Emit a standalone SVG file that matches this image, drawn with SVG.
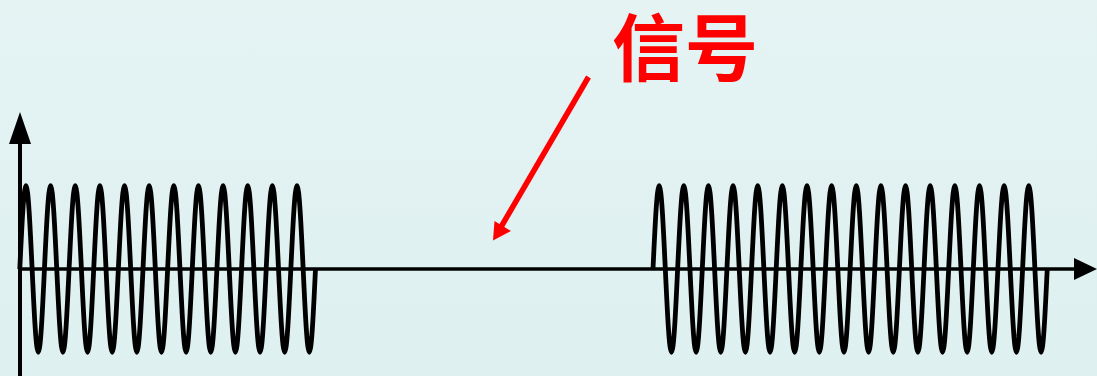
<svg xmlns="http://www.w3.org/2000/svg" width="1097" height="376" viewBox="0 0 1097 376">
<defs>
<linearGradient id="bg" x1="0" y1="0" x2="0" y2="1">
<stop offset="0" stop-color="#E5F3F3"/>
<stop offset="1" stop-color="#DEF0F0"/>
</linearGradient>
<style>
.ax{stroke:#000;stroke-width:3.5;fill:none}
.wave{stroke:#000;stroke-width:4.8;fill:none;stroke-linejoin:round;stroke-linecap:butt}
.head{fill:#000}
.lbl{font-family:"Noto Sans CJK SC",sans-serif;font-size:73px;font-weight:bold;fill:#FF0000}
.red{stroke:#FF0000;stroke-width:5.5;fill:none}
</style>
</defs>
<rect width="1097" height="376" fill="url(#bg)"/>
<g id="axes">
<line class="ax" x1="20" y1="376" x2="20" y2="140" style="stroke-width:4"/>
<polygon class="head" points="9,144 20,112 31,144"/>
<line class="ax" x1="18" y1="269" x2="1078" y2="269"/>
<polygon class="head" points="1074,258 1097,269 1074,280"/>
</g>
<g id="wave-left">
<path class="wave" d="M19.8,269
c2.009,-42.67 3.931,-83.3 6.16,-83.3c2.229,0 4.151,40.63 6.16,83.3c2.009,42.67 3.931,83.3 6.16,83.3c2.229,0 4.151,-40.63 6.16,-83.3
c2.009,-42.67 3.931,-83.3 6.16,-83.3c2.229,0 4.151,40.63 6.16,83.3c2.009,42.67 3.931,83.3 6.16,83.3c2.229,0 4.151,-40.63 6.16,-83.3
c2.009,-42.67 3.931,-83.3 6.16,-83.3c2.229,0 4.151,40.63 6.16,83.3c2.009,42.67 3.931,83.3 6.16,83.3c2.229,0 4.151,-40.63 6.16,-83.3
c2.009,-42.67 3.931,-83.3 6.16,-83.3c2.229,0 4.151,40.63 6.16,83.3c2.009,42.67 3.931,83.3 6.16,83.3c2.229,0 4.151,-40.63 6.16,-83.3
c2.009,-42.67 3.931,-83.3 6.16,-83.3c2.229,0 4.151,40.63 6.16,83.3c2.009,42.67 3.931,83.3 6.16,83.3c2.229,0 4.151,-40.63 6.16,-83.3
c2.009,-42.67 3.931,-83.3 6.16,-83.3c2.229,0 4.151,40.63 6.16,83.3c2.009,42.67 3.931,83.3 6.16,83.3c2.229,0 4.151,-40.63 6.16,-83.3
c2.009,-42.67 3.931,-83.3 6.16,-83.3c2.229,0 4.151,40.63 6.16,83.3c2.009,42.67 3.931,83.3 6.16,83.3c2.229,0 4.151,-40.63 6.16,-83.3
c2.009,-42.67 3.931,-83.3 6.16,-83.3c2.229,0 4.151,40.63 6.16,83.3c2.009,42.67 3.931,83.3 6.16,83.3c2.229,0 4.151,-40.63 6.16,-83.3
c2.009,-42.67 3.931,-83.3 6.16,-83.3c2.229,0 4.151,40.63 6.16,83.3c2.009,42.67 3.931,83.3 6.16,83.3c2.229,0 4.151,-40.63 6.16,-83.3
c2.009,-42.67 3.931,-83.3 6.16,-83.3c2.229,0 4.151,40.63 6.16,83.3c2.009,42.67 3.931,83.3 6.16,83.3c2.229,0 4.151,-40.63 6.16,-83.3
c2.009,-42.67 3.931,-83.3 6.16,-83.3c2.229,0 4.151,40.63 6.16,83.3c2.009,42.67 3.931,83.3 6.16,83.3c2.229,0 4.151,-40.63 6.16,-83.3
c2.009,-42.67 3.931,-83.3 6.16,-83.3c2.229,0 4.151,40.63 6.16,83.3c2.009,42.67 3.931,83.3 6.16,83.3c2.229,0 4.151,-40.63 6.16,-83.3"/>
</g>
<g id="wave-right">
<path class="wave" d="M653,269
c2.009,-42.67 3.931,-83.3 6.16,-83.3c2.229,0 4.151,40.63 6.16,83.3c2.009,42.67 3.931,83.3 6.16,83.3c2.229,0 4.151,-40.63 6.16,-83.3
c2.009,-42.67 3.931,-83.3 6.16,-83.3c2.229,0 4.151,40.63 6.16,83.3c2.009,42.67 3.931,83.3 6.16,83.3c2.229,0 4.151,-40.63 6.16,-83.3
c2.009,-42.67 3.931,-83.3 6.16,-83.3c2.229,0 4.151,40.63 6.16,83.3c2.009,42.67 3.931,83.3 6.16,83.3c2.229,0 4.151,-40.63 6.16,-83.3
c2.009,-42.67 3.931,-83.3 6.16,-83.3c2.229,0 4.151,40.63 6.16,83.3c2.009,42.67 3.931,83.3 6.16,83.3c2.229,0 4.151,-40.63 6.16,-83.3
c2.009,-42.67 3.931,-83.3 6.16,-83.3c2.229,0 4.151,40.63 6.16,83.3c2.009,42.67 3.931,83.3 6.16,83.3c2.229,0 4.151,-40.63 6.16,-83.3
c2.009,-42.67 3.931,-83.3 6.16,-83.3c2.229,0 4.151,40.63 6.16,83.3c2.009,42.67 3.931,83.3 6.16,83.3c2.229,0 4.151,-40.63 6.16,-83.3
c2.009,-42.67 3.931,-83.3 6.16,-83.3c2.229,0 4.151,40.63 6.16,83.3c2.009,42.67 3.931,83.3 6.16,83.3c2.229,0 4.151,-40.63 6.16,-83.3
c2.009,-42.67 3.931,-83.3 6.16,-83.3c2.229,0 4.151,40.63 6.16,83.3c2.009,42.67 3.931,83.3 6.16,83.3c2.229,0 4.151,-40.63 6.16,-83.3
c2.009,-42.67 3.931,-83.3 6.16,-83.3c2.229,0 4.151,40.63 6.16,83.3c2.009,42.67 3.931,83.3 6.16,83.3c2.229,0 4.151,-40.63 6.16,-83.3
c2.009,-42.67 3.931,-83.3 6.16,-83.3c2.229,0 4.151,40.63 6.16,83.3c2.009,42.67 3.931,83.3 6.16,83.3c2.229,0 4.151,-40.63 6.16,-83.3
c2.009,-42.67 3.931,-83.3 6.16,-83.3c2.229,0 4.151,40.63 6.16,83.3c2.009,42.67 3.931,83.3 6.16,83.3c2.229,0 4.151,-40.63 6.16,-83.3
c2.009,-42.67 3.931,-83.3 6.16,-83.3c2.229,0 4.151,40.63 6.16,83.3c2.009,42.67 3.931,83.3 6.16,83.3c2.229,0 4.151,-40.63 6.16,-83.3
c2.009,-42.67 3.931,-83.3 6.16,-83.3c2.229,0 4.151,40.63 6.16,83.3c2.009,42.67 3.931,83.3 6.16,83.3c2.229,0 4.151,-40.63 6.16,-83.3
c2.009,-42.67 3.931,-83.3 6.16,-83.3c2.229,0 4.151,40.63 6.16,83.3c2.009,42.67 3.931,83.3 6.16,83.3c2.229,0 4.151,-40.63 6.16,-83.3
c2.009,-42.67 3.931,-83.3 6.16,-83.3c2.229,0 4.151,40.63 6.16,83.3c2.009,42.67 3.931,83.3 6.16,83.3c2.229,0 4.151,-40.63 6.16,-83.3
c2.009,-42.67 3.931,-83.3 6.16,-83.3c2.229,0 4.151,40.63 6.16,83.3c2.009,42.67 3.931,83.3 6.16,83.3c2.229,0 4.151,-40.63 6.16,-83.3"/>
</g>
<g id="label">
<text class="lbl" x="612" y="75">信号</text>
</g>
<g id="connectors">
<line class="red" x1="588.5" y1="77" x2="501" y2="227"/>
<polygon fill="#FF0000" points="493,240.5 494.5,221 511,231"/>
</g>
</svg>
